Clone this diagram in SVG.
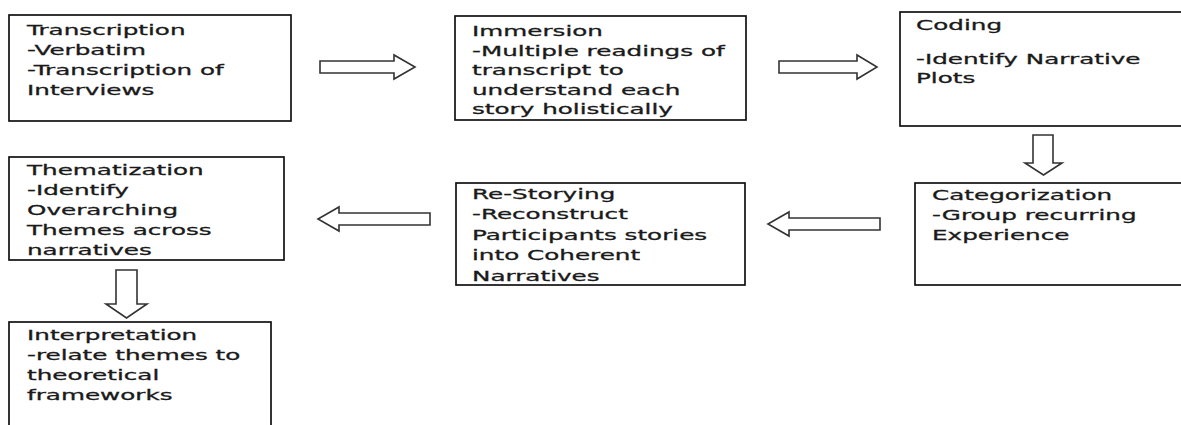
<svg xmlns="http://www.w3.org/2000/svg" width="1181" height="425" viewBox="0 0 1181 425">
<style>
.box{fill:#fff;stroke:#111;stroke-width:1.7}
.arr{fill:#fff;stroke:#333;stroke-width:1.6;stroke-linejoin:miter}
.t{font-family:"DejaVu Sans","Liberation Sans",sans-serif;font-size:14.5px;fill:#1a1a1a;stroke:#1a1a1a;stroke-width:0.3}
</style>
<rect width="1181" height="425" fill="#fff"/>
<g id="connectors">
<polygon class="arr" points="320,61 394,61 394,55 415,67 394,79 394,73 320,73"/>
<polygon class="arr" points="779,61 857,61 857,55 877,67 857,79 857,73 779,73"/>
<polygon class="arr" points="1033,135 1053,135 1053,163 1062,163 1043.5,175 1025,163 1033,163"/>
<polygon class="arr" points="880,218 789,218 789,212 768,224 789,236 789,230 880,230"/>
<polygon class="arr" points="430,213 339,213 339,207 318,219 339,231 339,225 430,225"/>
<polygon class="arr" points="116,270 137,270 137,304 147,304 126.5,318 106,304 116,304"/>
</g>
<g id="transcription">
<rect class="box" x="9" y="15" width="282" height="106"/>
<text class="t" transform="translate(27,35) scale(1.7,1)"><tspan x="0" y="0">Transcription</tspan><tspan x="0" y="20">-Verbatim</tspan><tspan x="0" y="40">-Transcription of</tspan><tspan x="0" y="60">Interviews</tspan></text>
</g>
<g id="immersion">
<rect class="box" x="455" y="16" width="291" height="104"/>
<text class="t" transform="translate(472,36) scale(1.7,1)"><tspan x="0" y="0">Immersion</tspan><tspan x="0" y="19.6">-Multiple readings of</tspan><tspan x="0" y="39.2">transcript to</tspan><tspan x="0" y="58.8">understand each</tspan><tspan x="0" y="78.4">story holistically</tspan></text>
</g>
<g id="coding">
<rect class="box" x="900" y="12" width="300" height="114"/>
<text class="t" transform="translate(916,30) scale(1.7,1)"><tspan x="0" y="0">Coding</tspan><tspan x="0" y="34">-Identify Narrative</tspan><tspan x="0" y="53.5">Plots</tspan></text>
</g>
<g id="categorization">
<rect class="box" x="915" y="183" width="290" height="102"/>
<text class="t" transform="translate(932,200) scale(1.7,1)"><tspan x="0" y="0">Categorization</tspan><tspan x="0" y="20">-Group recurring</tspan><tspan x="0" y="40">Experience</tspan></text>
</g>
<g id="restorying">
<rect class="box" x="456" y="183" width="289" height="102"/>
<text class="t" transform="translate(472,199) scale(1.7,1)"><tspan x="0" y="0">Re-Storying</tspan><tspan x="0" y="20.5">-Reconstruct</tspan><tspan x="0" y="41">Participants stories</tspan><tspan x="0" y="61.5">into Coherent</tspan><tspan x="0" y="82">Narratives</tspan></text>
</g>
<g id="thematization">
<rect class="box" x="9" y="157" width="275" height="103"/>
<text class="t" transform="translate(27,175) scale(1.7,1)"><tspan x="0" y="0">Thematization</tspan><tspan x="0" y="20">-Identify</tspan><tspan x="0" y="40">Overarching</tspan><tspan x="0" y="60">Themes across</tspan><tspan x="0" y="80.5">narratives</tspan></text>
</g>
<g id="interpretation">
<rect class="box" x="9" y="322" width="262" height="120"/>
<text class="t" transform="translate(27,340) scale(1.7,1)"><tspan x="0" y="0">Interpretation</tspan><tspan x="0" y="20">-relate themes to</tspan><tspan x="0" y="40">theoretical</tspan><tspan x="0" y="60">frameworks</tspan></text>
</g>
</svg>
